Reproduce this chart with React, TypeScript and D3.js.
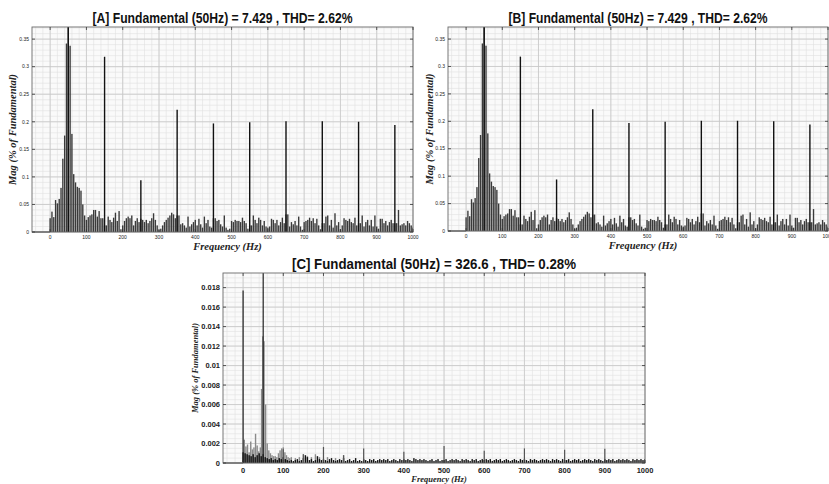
import React from 'react';
import * as d3 from 'd3';

// spectrum A / B (same data), 5 Hz bins from 0 to 1000 Hz
const binStep = 5;
const barsA = [
  0.025, 0.037, 0.027, 0.058, 0.052, 0.060, 0.080, 0.133, 0.175, 0.342, 0.380,
  0.338, 0.178, 0.105, 0.090, 0.082, 0.080, 0.075, 0.050, 0.030, 0.022,
  0.027, 0.030, 0.032, 0.040, 0.040, 0.028, 0.038, 0.025, 0.025, 0.012,
  0.012, 0.028, 0.022, 0.018, 0.026, 0.035, 0.020, 0.038, 0.005, 0.012,
  0.020, 0.025, 0.028, 0.025, 0.030, 0.012, 0.020, 0.025, 0.018, 0.024,
  0.022, 0.018, 0.022, 0.016, 0.020, 0.025, 0.034, 0.022, 0.012, 0.004,
  0.006, 0.012, 0.018, 0.022, 0.026, 0.030, 0.035, 0.032, 0.025, 0.030,
  0.030, 0.014, 0.016, 0.012, 0.008, 0.028, 0.010, 0.014, 0.018, 0.022,
  0.012, 0.024, 0.014, 0.008, 0.028, 0.016, 0.022, 0.010, 0.008, 0.025,
  0.025, 0.020, 0.022, 0.014, 0.010, 0.030, 0.008, 0.004, 0.006, 0.020,
  0.018, 0.022, 0.020, 0.020, 0.018, 0.026, 0.020, 0.016, 0.006, 0.012,
  0.012, 0.030, 0.022, 0.016, 0.026, 0.022, 0.012, 0.020, 0.010, 0.008,
  0.010, 0.024, 0.022, 0.016, 0.022, 0.012, 0.018, 0.026, 0.016, 0.032,
  0.032, 0.010, 0.018, 0.014, 0.020, 0.012, 0.028, 0.010, 0.004, 0.018,
  0.020, 0.022, 0.026, 0.020, 0.025, 0.016, 0.024, 0.012, 0.005, 0.016,
  0.016, 0.028, 0.030, 0.012, 0.022, 0.008, 0.034, 0.012, 0.018, 0.005,
  0.012, 0.025, 0.022, 0.020, 0.024, 0.018, 0.016, 0.026, 0.012, 0.016,
  0.016, 0.030, 0.010, 0.018, 0.022, 0.012, 0.022, 0.010, 0.030, 0.010,
  0.006, 0.024, 0.024, 0.016, 0.020, 0.012, 0.018, 0.022, 0.016, 0.016,
  0.016, 0.040, 0.012, 0.014, 0.016, 0.012, 0.020, 0.016, 0.012, 0.008,
];
const spikeFreqsA = [50, 150, 250, 350, 450, 550, 650, 750, 850, 950];
const spikeValsA = [0.40, 0.318, 0.094, 0.222, 0.197, 0.199, 0.201, 0.201, 0.200, 0.194];

// spectrum C
const greyFreqsC = [3, 7, 11, 15, 19, 23, 27, 31, 35, 39, 43, 46, 49, 52, 56, 60, 64, 68, 72, 76, 80, 84, 88, 92, 96, 100, 104, 108, 112, 116, 120, 130, 140, 150, 160, 170, 180, 190, 210, 230, 250];
const greyValsC = [0.0024, 0.0017, 0.0019, 0.0011, 0.0022, 0.0014, 0.0016, 0.0030, 0.0018, 0.0012, 0.0016, 0.0076, 0.0130, 0.0125, 0.0060, 0.0020, 0.0013, 0.0010, 0.0008, 0.0007, 0.0007, 0.0006, 0.0010, 0.0013, 0.0015, 0.0016, 0.0011, 0.0008, 0.0006, 0.0005, 0.0006, 0.0005, 0.0006, 0.0009, 0.0007, 0.0006, 0.0009, 0.0006, 0.0006, 0.0005, 0.0008];
const blackC = [
  0.0011, 0.0010, 0.0009, 0.0008, 0.0007, 0.0009, 0.0006, 0.0008, 0.0010, 0.0007, 0.0009,
  0.0006, 0.0005, 0.0004, 0.0005, 0.0003, 0.0004, 0.0003, 0.0005, 0.0004, 0.0006,
  0.0004, 0.0003, 0.0002, 0.0003, 0.0002, 0.0003, 0.0004, 0.0002, 0.0003, 0.0005,
  0.0008, 0.0006, 0.0003, 0.0004, 0.0002, 0.0003, 0.0007, 0.0004, 0.0003, 0.0004,
  0.0003, 0.0002, 0.0004, 0.0005, 0.0003, 0.0002, 0.0003, 0.0004, 0.0003, 0.0005,
  0.0002, 0.0003, 0.0004, 0.0002, 0.0003, 0.0005, 0.0002, 0.0003, 0.0002, 0.0004,
  0.0003, 0.0002, 0.0004, 0.0003, 0.0004, 0.0002, 0.0003, 0.0004, 0.0003, 0.0004,
  0.0003, 0.0004, 0.0002, 0.0003, 0.0004, 0.0003, 0.0002, 0.0004, 0.0003, 0.0004,
  0.0003, 0.0004, 0.0003, 0.0002, 0.0005, 0.0004, 0.0003, 0.0004, 0.0003, 0.0004,
  0.0003, 0.0002, 0.0003, 0.0004, 0.0002, 0.0003, 0.0004, 0.0002, 0.0003, 0.0003,
  0.0004, 0.0002, 0.0003, 0.0004, 0.0003, 0.0004, 0.0003, 0.0002, 0.0004, 0.0003,
  0.0004, 0.0003, 0.0002, 0.0004, 0.0003, 0.0004, 0.0002, 0.0003, 0.0004, 0.0003,
  0.0004, 0.0003, 0.0004, 0.0002, 0.0003, 0.0004, 0.0003, 0.0004, 0.0002, 0.0003,
  0.0004, 0.0003, 0.0002, 0.0003, 0.0004, 0.0003, 0.0002, 0.0004, 0.0003, 0.0004,
  0.0003, 0.0002, 0.0004, 0.0003, 0.0004, 0.0003, 0.0002, 0.0003, 0.0004, 0.0003,
  0.0004, 0.0003, 0.0002, 0.0004, 0.0003, 0.0004, 0.0003, 0.0002, 0.0004, 0.0003,
  0.0003, 0.0004, 0.0002, 0.0003, 0.0004, 0.0003, 0.0004, 0.0002, 0.0003, 0.0004,
  0.0003, 0.0004, 0.0003, 0.0002, 0.0004, 0.0003, 0.0004, 0.0003, 0.0002, 0.0004,
  0.0003, 0.0004, 0.0003, 0.0004, 0.0002, 0.0003, 0.0004, 0.0003, 0.0004, 0.0003,
  0.0004, 0.0003, 0.0002, 0.0004, 0.0003, 0.0004, 0.0003, 0.0004, 0.0003, 0.0004,
];
const spikeFreqsC = [0, 50, 100, 150, 200, 250, 300, 400, 500, 600, 700, 800, 900];
const spikeValsC = [0.0177, 0.0210, 0.0014, 0.0009, 0.00165, 0.0008, 0.0015, 0.00115, 0.00175, 0.00125, 0.0015, 0.00135, 0.00145];

const xTicks = [0, 100, 200, 300, 400, 500, 600, 700, 800, 900, 1000];
const yTicksA = [0, 0.05, 0.1, 0.15, 0.2, 0.25, 0.3, 0.35];
const yLabelsA = ['0', '0.05', '0.1', '0.15', '0.2', '0.25', '0.3', '0.35'];
const yTicksC = [0, 0.002, 0.004, 0.006, 0.008, 0.01, 0.012, 0.014, 0.016, 0.018];
const yLabelsC = ['0', '0.002', '0.004', '0.006', '0.008', '0.01', '0.012', '0.014', '0.016', '0.018'];

const titleFont = '"Liberation Sans Narrow", "Arial Narrow", "Liberation Sans", sans-serif';
const serif = '"Liberation Serif", "Times New Roman", serif';

type PanelProps = {
  id: string;
  title: string;
  titleWidth: number;
  box: { left: number; right: number; top: number; bottom: number };
  yMax: number;
  yTicks: number[];
  yLabels: string[];
  yMinorStep: number;
  tickFont: number;
  tickWeight: string;
  labelFont: number;
  yLabelX: number;
  children: (x: d3.ScaleLinear<number, number>, y: d3.ScaleLinear<number, number>) => React.ReactNode;
};

function Panel(p: PanelProps) {
  const { left, right, top, bottom } = p.box;
  const x = d3.scaleLinear().domain([-50, 1000]).range([left, right]);
  const y = d3.scaleLinear().domain([0, p.yMax]).range([bottom, top]);
  const xMinor = d3.range(-40, 1000, 20);
  const yMinor = d3.range(0, p.yMax, p.yMinorStep);
  const tl = 3;
  return (
    <g>
      <defs>
        <clipPath id={'clip' + p.id}>
          <rect x={left} y={top} width={right - left} height={bottom - top} />
        </clipPath>
      </defs>
      <rect x={left} y={top} width={right - left} height={bottom - top} fill="#fafafa" />
      {xMinor.map((v) => (
        <line key={'xm' + v} x1={x(v)} x2={x(v)} y1={top} y2={bottom} stroke="#e0e0e0" strokeWidth={0.6} />
      ))}
      {yMinor.map((v) => (
        <line key={'ym' + v} x1={left} x2={right} y1={y(v)} y2={y(v)} stroke="#e0e0e0" strokeWidth={0.6} />
      ))}
      {xTicks.map((v) => (
        <line key={'xg' + v} x1={x(v)} x2={x(v)} y1={top} y2={bottom} stroke="#c6c6c6" strokeWidth={0.8} />
      ))}
      {p.yTicks.map((v) => (
        <line key={'yg' + v} x1={left} x2={right} y1={y(v)} y2={y(v)} stroke="#c6c6c6" strokeWidth={0.8} />
      ))}
      <g clipPath={`url(#clip${p.id})`}>{p.children(x, y)}</g>
      <line x1={x(-50)} x2={x(0)} y1={y(0)} y2={y(0)} stroke="#777" strokeWidth={1.5} />
      <rect x={left} y={top} width={right - left} height={bottom - top} fill="none" stroke="#6a6a6a" strokeWidth={0.9} />
      {xTicks.map((v) => (
        <g key={'xt' + v}>
          <line x1={x(v)} x2={x(v)} y1={bottom} y2={bottom - tl} stroke="#333" strokeWidth={0.8} />
          <line x1={x(v)} x2={x(v)} y1={top} y2={top + tl} stroke="#333" strokeWidth={0.8} />
          <text x={x(v)} y={bottom + p.tickFont + 2} textAnchor="middle" fontSize={p.tickFont} fontWeight={p.tickWeight}
            fontFamily="Liberation Sans, Arial, sans-serif" fill="#222">{v}</text>
        </g>
      ))}
      {p.yTicks.map((v, i) => (
        <g key={'yt' + v}>
          <line x1={left} x2={left + tl} y1={y(v)} y2={y(v)} stroke="#333" strokeWidth={0.8} />
          <line x1={right} x2={right - tl} y1={y(v)} y2={y(v)} stroke="#333" strokeWidth={0.8} />
          <text x={left - 3} y={y(v) + p.tickFont * 0.35} textAnchor="end" fontSize={p.tickFont} fontWeight={p.tickWeight}
            fontFamily="Liberation Sans, Arial, sans-serif" fill="#222">{p.yLabels[i]}</text>
        </g>
      ))}
      <text x={(left + right) / 2} y={top - 4} textAnchor="middle" fontSize={15} fontWeight="bold" fontFamily={titleFont} fill="#111"
        textLength={p.titleWidth} lengthAdjust="spacingAndGlyphs">
        {p.title}
      </text>
      <text x={(left + right) / 2 + 5} y={bottom + p.tickFont + 4 + p.labelFont * 0.9} textAnchor="middle" fontSize={p.labelFont}
        fontWeight="bold" fontStyle="italic" fontFamily={serif} fill="#222">Frequency (Hz)</text>
      <text transform={`translate(${p.yLabelX},${(top + bottom) / 2}) rotate(-90)`} textAnchor="middle"
        fontSize={p.labelFont} fontWeight="bold" fontStyle="italic" fontFamily={serif} fill="#222">Mag (% of Fundamental)</text>
    </g>
  );
}

function spectrumAB(x: d3.ScaleLinear<number, number>, y: d3.ScaleLinear<number, number>) {
  const bw = x(binStep) - x(0);
  return (
    <g>
      {barsA.map((v, i) => (
        <rect key={i} x={x(i * binStep) - bw * 0.38} width={bw * 0.76} y={y(v)} height={y(0) - y(v)} fill="#3a3a3a" />
      ))}
      {spikeFreqsA.map((f, i) => (
        <line key={'s' + f} x1={x(f)} x2={x(f)} y1={y(0)} y2={y(spikeValsA[i])} stroke="#111" strokeWidth={1.4} />
      ))}
    </g>
  );
}

function spectrumC(x: d3.ScaleLinear<number, number>, y: d3.ScaleLinear<number, number>) {
  const bw = x(binStep) - x(0);
  return (
    <g>
      {greyFreqsC.map((f, i) => (
        <rect key={'g' + f} x={x(f) - 0.7} width={1.4} y={y(greyValsC[i])} height={y(0) - y(greyValsC[i])} fill="#8a8a8a" />
      ))}
      {blackC.map((v, i) => (
        <rect key={'b' + i} x={x(i * binStep) - bw * 0.35} width={bw * 0.7} y={y(v)} height={y(0) - y(v)} fill="#111" />
      ))}
      {spikeFreqsC.map((f, i) => (
        <line key={'s' + f} x1={x(f)} x2={x(f)} y1={y(0)} y2={y(spikeValsC[i])} stroke={i < 2 ? '#222' : '#555'} strokeWidth={1.2} />
      ))}
    </g>
  );
}

export default function App() {
  return (
    <svg width={829} height={484} style={{ position: 'absolute', left: 0, top: 0, background: '#fff' }}>
      <rect width={829} height={484} fill="#fff" />
      <Panel id="A" title="[A] Fundamental (50Hz) = 7.429 , THD= 2.62%" titleWidth={260} box={{ left: 32, right: 413, top: 27, bottom: 232 }}
        yMax={0.372} yTicks={yTicksA} yLabels={yLabelsA} yMinorStep={0.01} tickFont={5} tickWeight="normal" labelFont={10.5} yLabelX={16}>
        {spectrumAB}
      </Panel>
      <Panel id="B" title="[B] Fundamental (50Hz) = 7.429 , THD= 2.62%" titleWidth={259} box={{ left: 448, right: 828, top: 27, bottom: 231 }}
        yMax={0.372} yTicks={yTicksA} yLabels={yLabelsA} yMinorStep={0.01} tickFont={5} tickWeight="normal" labelFont={10.5} yLabelX={433}>
        {spectrumAB}
      </Panel>
      <Panel id="C" title="[C] Fundamental (50Hz) = 326.6 , THD= 0.28%" titleWidth={284} box={{ left: 223, right: 645, top: 273, bottom: 463 }}
        yMax={0.0195} yTicks={yTicksC} yLabels={yLabelsC} yMinorStep={0.0005} tickFont={7.5} tickWeight="bold" labelFont={8.5} yLabelX={198}>
        {spectrumC}
      </Panel>
    </svg>
  );
}
